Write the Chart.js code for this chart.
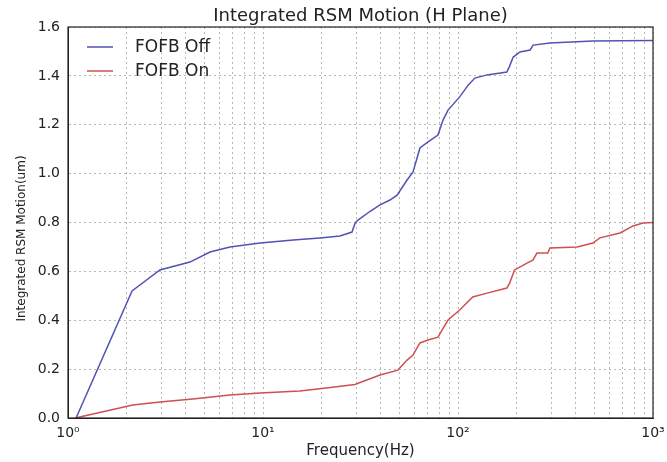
<!DOCTYPE html>
<html>
<head>
<meta charset="utf-8">
<script src="https://cdn.jsdelivr.net/npm/chart.js@4/dist/chart.umd.min.js"></script>
<style>
  html, body { margin: 0; padding: 0; background: #ffffff; }
  #wrap { width: 667px; height: 462px; position: relative; }
</style>
</head>
<body>
<div id="wrap"><canvas id="c" width="667" height="462"></canvas></div>
<script>
// ---- data ----
const chartTitle = 'Integrated RSM Motion (H Plane)';
const xTitle = 'Frequency(Hz)';
const yTitle = 'Integrated RSM Motion(um)';
const seriesNames = ['FOFB Off', 'FOFB On'];

const freqOff = [1.1, 2.13, 2.96, 4.22, 5.35, 6.77, 9.66, 14.3, 19.6, 24.8, 28.6, 29.7, 30.7, 35.3, 39.8, 44.8, 48.7, 54.8, 58.8, 63.8, 70.2, 78.9, 83.8, 88.9, 102, 113, 122, 141, 178, 183, 192, 208, 234, 243, 296, 492, 1000];
const rsmOff  = [0, 0.52, 0.606, 0.638, 0.679, 0.70, 0.716, 0.728, 0.737, 0.745, 0.761, 0.798, 0.81, 0.845, 0.872, 0.892, 0.912, 0.974, 1.007, 1.105, 1.13, 1.158, 1.219, 1.26, 1.314, 1.363, 1.391, 1.404, 1.416, 1.436, 1.477, 1.498, 1.506, 1.526, 1.535, 1.543, 1.545];

const freqOn = [1.09, 2.15, 2.96, 4.37, 6.77, 9.66, 15.4, 19.6, 29.6, 39.8, 49.2, 54.8, 58.8, 63.8, 70.2, 78.9, 88.9, 102, 119, 141, 178, 184, 195, 226, 242, 254, 289, 296, 408, 492, 534, 677, 791, 888, 1000];
const rsmOn  = [0, 0.053, 0.065, 0.078, 0.094, 0.102, 0.11, 0.12, 0.137, 0.176, 0.196, 0.237, 0.258, 0.307, 0.319, 0.331, 0.401, 0.442, 0.495, 0.511, 0.532, 0.552, 0.606, 0.634, 0.646, 0.675, 0.675, 0.696, 0.70, 0.716, 0.737, 0.757, 0.786, 0.798, 0.80];

const xTickValues = [1,2,3,4,5,6,7,8,9,10,20,30,40,50,60,70,80,90,100,200,300,400,500,600,700,800,900,1000];
const xDecadeLabels = {1: '10\u2070', 10: '10\u00b9', 100: '10\u00b2', 1000: '10\u00b3'};
const yMin = 0, yMax = 1.6, yStep = 0.2;

// ---- build ----
const toPts = (xs, ys) => xs.map((x, i) => ({x: x, y: ys[i]}));
const FONT = "'DejaVu Sans', sans-serif";

const framePlugin = {
  id: 'frame',
  afterDatasetsDraw(chart) {
    const {ctx, chartArea: a} = chart;
    ctx.save();
    ctx.strokeStyle = '#222';
    ctx.lineWidth = 1.2;
    ctx.strokeRect(a.left, a.top, a.right - a.left, a.bottom - a.top);
    ctx.restore();
  }
};

// y-axis title, drawn beside the axis (slightly below the axis centre, as in the reference)
const yTitlePlugin = {
  id: 'yTitle',
  afterDraw(chart, args, opts) {
    const {ctx, chartArea: a} = chart;
    ctx.save();
    ctx.font = opts.fontSize + 'px ' + FONT;
    ctx.fillStyle = '#222';
    ctx.textAlign = 'center';
    ctx.textBaseline = 'middle';
    ctx.translate(opts.x, (a.top + a.bottom) / 2 + opts.shift);
    ctx.rotate(-Math.PI / 2);
    ctx.fillText(opts.text, 0, 0);
    ctx.restore();
  }
};

const legendPlugin = {
  id: 'innerLegend',
  afterDraw(chart, args, opts) {
    const {ctx, chartArea: a} = chart;
    ctx.save();
    ctx.font = opts.fontSize + 'px ' + FONT;
    ctx.textBaseline = 'middle';
    ctx.textAlign = 'left';
    chart.data.datasets.forEach((ds, i) => {
      const y = a.top + opts.offsetY + i * opts.rowGap;
      const x0 = a.left + opts.offsetX;
      ctx.strokeStyle = ds.borderColor;
      ctx.lineWidth = ds.borderWidth;
      ctx.beginPath();
      ctx.moveTo(x0, y);
      ctx.lineTo(x0 + opts.lineLen, y);
      ctx.stroke();
      ctx.fillStyle = '#222';
      ctx.fillText(ds.label, x0 + opts.lineLen + opts.textGap, y + 1);
    });
    ctx.restore();
  }
};

new Chart(document.getElementById('c'), {
  type: 'line',
  data: {
    datasets: [
      { label: seriesNames[0], data: toPts(freqOff, rsmOff), borderColor: '#5252b6', borderWidth: 1.5, pointRadius: 0, tension: 0, fill: false },
      { label: seriesNames[1], data: toPts(freqOn, rsmOn), borderColor: '#cf5050', borderWidth: 1.5, pointRadius: 0, tension: 0, fill: false }
    ]
  },
  options: {
    responsive: false,
    animation: false,
    devicePixelRatio: 1,
    layout: { padding: { left: 0, right: 14, top: 0, bottom: 0 } },
    plugins: {
      legend: { display: false },
      tooltip: { enabled: false },
      title: {
        display: true, text: chartTitle, fullSize: false,
        color: '#222', font: { family: FONT, size: 18, weight: 'normal', lineHeight: 1 },
        padding: { top: 7, bottom: 2 }
      },
      innerLegend: { offsetX: 19, offsetY: 20, rowGap: 24, lineLen: 26, textGap: 22, fontSize: 17 },
      yTitle: { text: yTitle, x: 22, shift: 16, fontSize: 12 }
    },
    scales: {
      x: {
        type: 'logarithmic', min: 1, max: 1000,
        afterBuildTicks: (s) => { s.ticks = xTickValues.map(v => ({value: v})); },
        afterFit: (s) => { s.height = 44; s.paddingRight = 0; s.paddingLeft = 0; },
        grid: { color: '#a4a4a4', lineWidth: 0.8, drawTicks: false },
        border: { display: true, color: '#222', dash: [2, 3] },
        ticks: {
          autoSkip: false, maxRotation: 0, padding: 7, color: '#222',
          font: { family: FONT, size: 14 },
          callback: (v) => xDecadeLabels[v] || ''
        },
        title: { display: true, text: xTitle, color: '#222', font: { family: FONT, size: 15 }, padding: { top: 0, bottom: 2 } }
      },
      y: {
        type: 'linear', min: yMin, max: yMax,
        afterFit: (s) => { s.width = 68; },
        grid: { color: '#a4a4a4', lineWidth: 0.8, drawTicks: false },
        border: { display: true, color: '#222', dash: [2, 3] },
        ticks: {
          stepSize: yStep, padding: 8, color: '#222',
          font: { family: FONT, size: 14 },
          callback: (v) => Number(v).toFixed(1)
        }
      }
    }
  },
  plugins: [framePlugin, legendPlugin, yTitlePlugin]
});
</script>
</body>
</html>
